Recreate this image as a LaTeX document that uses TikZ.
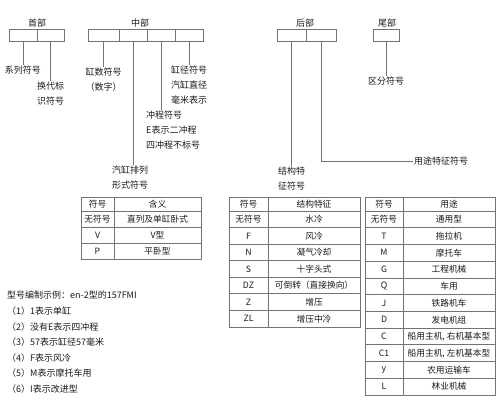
\documentclass[tikz,border=0pt]{standalone}
\usepackage{fontspec}
\setmainfont{Noto Sans CJK SC}
\usepackage{tikz}
\definecolor{linegray}{rgb}{0.45, 0.45, 0.45}
\definecolor{inkgray}{rgb}{0.1, 0.1, 0.1}
\tikzset{cell/.style={rectangle, draw=linegray, line width=0.8pt, inner sep=+0pt, minimum height=12pt}}
\tikzset{lead/.style={-, color=linegray, line width=1pt}}
\tikzset{grid/.style={color=linegray, line width=0.8pt}}
\tikzset{txt/.style={text=inkgray, font=\fontsize{9}{15}\selectfont, inner sep=+1pt, align=center}}
\tikzset{tab/.style={text=inkgray, font=\fontsize{8.7}{10}\selectfont, inner sep=+0pt}}

\begin{document}
\begin{tikzpicture}[x=1pt, y=-1pt]
    \useasboundingbox (0,0) rectangle (500,402);

    % group titles
    \node[txt] (headT) at (37,23) {首部};
    \node[txt] (midT) at (140,23) {中部};
    \node[txt] (rearT) at (305,23) {后部};
    \node[txt] (tailT) at (387,23) {尾部};

    % code boxes
    \node[cell,minimum width=28pt] (h1) at (23,35) {};
    \node[cell,minimum width=27pt] (h2) at (50.5,35) {};
    \node[cell,minimum width=31pt] (m1) at (103.5,35) {};
    \node[cell,minimum width=28pt] (m2) at (133,35) {};
    \node[cell,minimum width=28pt] (m3) at (161,35) {};
    \node[cell,minimum width=28pt] (m4) at (189,35) {};
    \node[cell,minimum width=29pt] (r1) at (291.5,35) {};
    \node[cell,minimum width=30pt] (r2) at (321,35) {};
    \node[cell,minimum width=26pt] (t1) at (386,35) {};

    % meanings
    \node[txt] (series) at (23,70) {系列符号};
    \node[txt] (gen) at (50.5,94) {换代标\\识符号};
    \node[txt] (cyl) at (103.5,80) {缸数符号\\（数字）};
    \node[txt] (bore) at (189,85) {缸径符号\\汽缸直径\\毫米表示};
    \node[txt,align=left,anchor=north west] (stroke) at (145,110) {冲程符号\\E表示二冲程\\四冲程不标号};
    \node[txt] (form) at (130,178) {汽缸排列\\形式符号};
    \node[txt] (struct) at (291.5,178.5) {结构特\\征符号};
    \node[txt,anchor=west] (use) at (413,161) {用途特征符号};
    \node[txt] (mark) at (386,81) {区分符号};

    \draw[lead] (h1) -- (series);
    \draw[lead] (h2) -- (gen);
    \draw[lead] (m1) -- (cyl);
    \draw[lead] (m2.south) -- (m2.south |- form.north);
    \draw[lead] (m3.south) -- (m3.south |- stroke.north);
    \draw[lead] (m4) -- (bore);
    \draw[lead] (r1) -- (struct);
    \draw[lead] (r2) |- (use);
    \draw[lead] (t1) -- (mark);

    % table: cylinder arrangement
    \draw[grid] (81,197) rectangle (201,259);
    \draw[grid] (114,197) -- (114,259);
    \foreach \y in {211,227,243} \draw[grid] (81,\y) -- (201,\y);
    \node[tab] (aS) at (97.5,204) {符号};
    \node[tab] (aD) at (157.5,204) {含义};
    \foreach \s/\d [count=\i] in {无符号/直列及单缸卧式, V/V型, P/平卧型} {
            \node[tab] (aS\i) at (97.5,{203+16*\i}) {\s};
            \node[tab] (aD\i) at (157.5,{203+16*\i}) {\d};
        }

    % table: structure
    \draw[grid] (229,197) rectangle (360,327);
    \draw[grid] (268,197) -- (268,327);
    \draw[grid] (229,211) -- (360,211);
    \foreach \i in {1,...,6} \draw[grid] (229,{211+16.57*\i}) -- (360,{211+16.57*\i});
    \node[tab] (bS) at (248.5,204) {符号};
    \node[tab] (bD) at (314,204) {结构特征};
    \foreach \s/\d [count=\i] in {无符号/水冷, F/风冷, N/凝气冷却, S/十字头式, DZ/可倒转（直接换向）, Z/增压, ZL/增压中冷} {
            \node[tab] (bS\i) at (248.5,{211+16.57*\i-8.3}) {\s};
            \node[tab] (bD\i) at (314,{211+16.57*\i-8.3}) {\d};
        }

    % table: application
    \draw[grid] (365,197) rectangle (495,395);
    \draw[grid] (403,197) -- (403,395);
    \draw[grid] (365,211) -- (495,211);
    \foreach \i in {1,...,10} \draw[grid] (365,{211+16.73*\i}) -- (495,{211+16.73*\i});
    \node[tab] (cS) at (384,204) {符号};
    \node[tab] (cD) at (449,204) {用途};
    \foreach \s/\d [count=\i] in {无符号/通用型, T/拖拉机, M/摩托车, G/工程机械, Q/车用, J/铁路机车, D/发电机组, C/{船用主机, 右机基本型}, C1/{船用主机, 左机基本型}, y/农用运输车, L/林业机械} {
            \node[tab] (cS\i) at (384,{211+16.73*\i-8.4}) {\s};
            \node[tab] (cD\i) at (449,{211+16.73*\i-8.4}) {\d};
        }

    % example
    \node[txt,anchor=west] (ex) at (6,295) {型号编制示例：en-2型的157FMI};
    \foreach \t [count=\i] in {1表示单缸, 没有E表示四冲程, 57表示缸径57毫米, F表示风冷, M表示摩托车用, I表示改进型} {
            \node[txt,anchor=west] (ex\i) at (6,{296+15.5*\i}) {（\i）\t};
        }

\end{tikzpicture}
\end{document}
